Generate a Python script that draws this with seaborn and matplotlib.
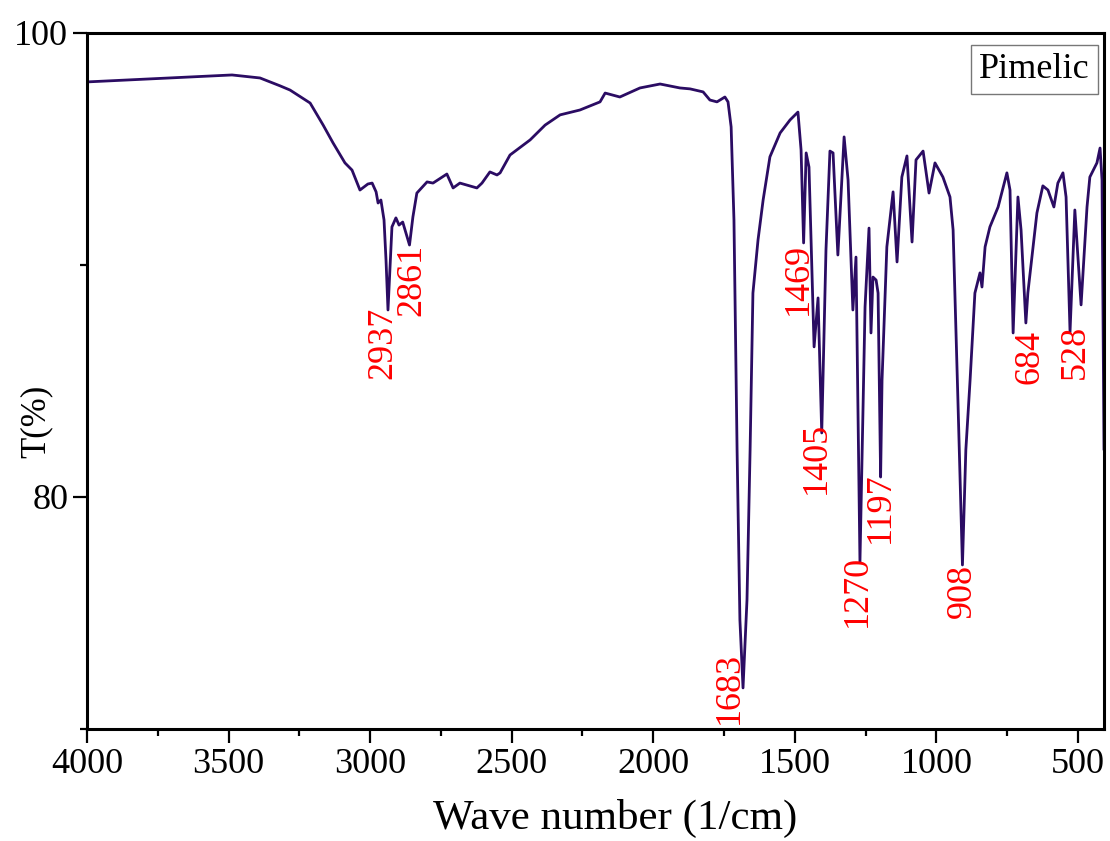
# FTIR spectrum of pimelic acid

import matplotlib
matplotlib.use('Agg')
import matplotlib.pyplot as plt
from matplotlib.ticker import MultipleLocator
import pandas as pd
import seaborn as sns

sns.set_style('ticks')
plt.rcParams['font.family'] = ['Liberation Serif', 'DejaVu Serif']
plt.rcParams['text.color'] = 'black'
plt.rcParams['axes.labelcolor'] = 'black'

# wave number (1/cm) and transmittance (%)
wavenumber = [4000, 3777, 3488, 3389, 3318, 3283, 3212, 3166, 3131, 3089,
              3064, 3036, 3008, 2993, 2979, 2972, 2962, 2951, 2944, 2937,
              2923, 2909, 2898, 2885, 2861, 2849, 2835, 2799, 2778, 2729,
              2707, 2683, 2623, 2605, 2577, 2552, 2541, 2506, 2435, 2382,
              2329, 2259, 2188, 2170, 2118, 2047, 1976, 1906, 1870, 1824,
              1800, 1775, 1747, 1736, 1725, 1715, 1704, 1694, 1683, 1669,
              1658, 1648, 1630, 1612, 1588, 1552, 1517, 1489, 1478, 1469,
              1460, 1450, 1432, 1418, 1405, 1390, 1376, 1365, 1348, 1326,
              1312, 1295, 1284, 1270, 1252, 1238, 1231, 1224, 1213, 1206,
              1197, 1192, 1175, 1153, 1139, 1122, 1104, 1086, 1072, 1047,
              1026, 1005, 977, 952, 941, 924, 908, 896, 881, 864,
              846, 839, 828, 811, 782, 751, 740, 729, 712, 701,
              684, 677, 645, 624, 606, 585, 571, 553, 542, 528,
              511, 489, 468, 458, 433, 422, 415, 408]
transmittance = [97.89, 98.02, 98.19, 98.06, 97.72, 97.54, 96.98, 96.03, 95.26, 94.40,
                 94.09, 93.23, 93.49, 93.53, 93.15, 92.67, 92.80, 91.94, 90.22, 88.06,
                 91.64, 92.03, 91.72, 91.85, 90.86, 92.07, 93.10, 93.58, 93.53, 93.92,
                 93.32, 93.53, 93.32, 93.53, 94.01, 93.88, 93.97, 94.74, 95.39, 96.03,
                 96.47, 96.68, 97.03, 97.41, 97.24, 97.63, 97.80, 97.63, 97.59, 97.46,
                 97.11, 97.03, 97.24, 97.03, 95.95, 91.94, 82.03, 74.70, 71.77, 75.56,
                 82.03, 88.79, 91.08, 92.80, 94.66, 95.69, 96.25, 96.59, 94.96, 90.95,
                 94.83, 94.22, 86.47, 88.58, 82.76, 90.65, 94.91, 94.83, 90.43, 95.52,
                 93.66, 88.06, 90.34, 77.20, 88.19, 91.59, 87.07, 89.48, 89.35, 88.79,
                 80.86, 85.04, 90.78, 93.15, 90.13, 93.79, 94.70, 90.99, 94.53, 94.91,
                 93.10, 94.40, 93.79, 92.93, 91.51, 84.18, 77.07, 82.03, 85.04, 88.79,
                 89.66, 89.05, 90.78, 91.64, 92.50, 93.97, 93.23, 87.07, 92.93, 91.51,
                 87.50, 88.79, 92.24, 93.41, 93.23, 92.50, 93.53, 93.97, 92.93, 87.11,
                 92.37, 88.28, 92.50, 93.79, 94.40, 95.04, 93.66, 82.03]

# labelled peaks
peak_labels = ['2937', '2861', '1683', '1469', '1405', '1270', '1197', '908', '684', '528']
peak_pos = [2937, 2861, 1683, 1469, 1405, 1270, 1197, 908, 684, 528]
peak_T = [88.06, 90.86, 71.77, 90.95, 82.76, 77.20, 80.86, 77.07, 87.50, 87.11]
# small nudges of the label text (points)
label_dx = [-4, 2, -10, -4, -4, -2, 0, 0, 3, 4]
label_dy = [2, 1, 26, 0, 8, 5, 3, 1, -5, 5]

df = pd.DataFrame({'w': wavenumber, 'T': transmittance})

fig = plt.figure(figsize=(11.1, 8.41), dpi=100)
ax = fig.add_axes([0.0784, 0.1332, 0.9162, 0.8276])

sns.lineplot(data=df, x='w', y='T', sort=False, estimator=None,
             color='#2b0c63', lw=2.0, ax=ax)

for lab, px, py, dx, dy in zip(peak_labels, peak_pos, peak_T, label_dx, label_dy):
    ax.annotate(lab, (px, py), xytext=(dx, dy), textcoords='offset points',
                rotation=90, ha='center', va='top', color='red', fontsize=26)

ax.set_xlim(4000, 408)
ax.set_ylim(70, 100)
ax.xaxis.set_major_locator(MultipleLocator(500))
ax.xaxis.set_minor_locator(MultipleLocator(250))
ax.yaxis.set_major_locator(MultipleLocator(20))
ax.yaxis.set_minor_locator(MultipleLocator(10))
ax.tick_params(which='major', length=10, width=1.6, labelsize=26, direction='out',
               top=False, right=False, colors='black')
ax.tick_params(which='minor', length=5, width=1.6, direction='out',
               top=False, right=False, colors='black')
for s in ax.spines.values():
    s.set_linewidth(2.2)
    s.set_color('black')
    s.set_visible(True)

ax.set_xlabel('Wave number (1/cm)', fontsize=31, color='black')
ax.set_ylabel('T(%)', fontsize=25, color='black')
ax.xaxis.set_label_coords(0.519, -0.100)
ax.yaxis.set_label_coords(-0.034, 0.4425)

ax.text(0.9317, 0.948, 'Pimelic', transform=ax.transAxes, ha='center', va='center',
        fontsize=26, color='black',
        bbox=dict(boxstyle='square,pad=0.22', fc='white', ec='#777777', lw=1))

fig.savefig('out.png', dpi=100)
